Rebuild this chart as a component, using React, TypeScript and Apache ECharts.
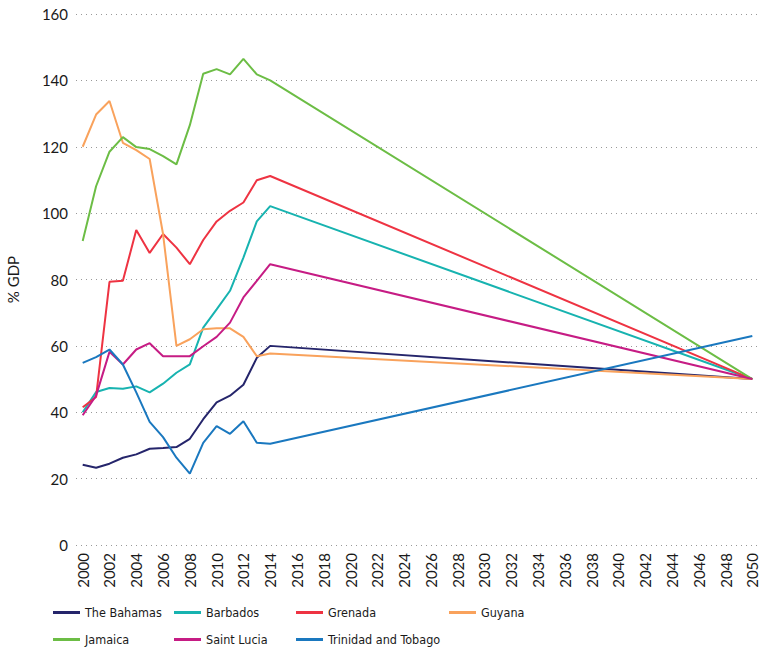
import React, { useEffect, useRef } from "react";
import * as echarts from "echarts";

const allYears: string[] = [];
for (let y = 2000; y <= 2050; y++) allYears.push(String(y));

const dataYears = [2000, 2001, 2002, 2003, 2004, 2005, 2006, 2007, 2008, 2009, 2010, 2011, 2012, 2013, 2014, 2050];

const bahamas = [24.2, 23.3, 24.5, 26.3, 27.3, 29.0, 29.2, 29.5, 32.0, 37.9, 43.0, 45.0, 48.3, 56.4, 60.0, 50];
const barbados = [40.0, 46.1, 47.3, 47.1, 47.8, 46.0, 48.6, 51.9, 54.4, 65.5, 71.0, 76.6, 86.6, 97.5, 102.1, 50];
const grenada = [41.5, 44.6, 79.3, 79.6, 94.9, 88.0, 93.7, 89.6, 84.6, 91.9, 97.5, 100.7, 103.2, 109.9, 111.2, 50];
const guyana = [120.0, 129.7, 133.8, 121.2, 119.0, 116.3, 93.7, 60.0, 62.0, 65.0, 65.3, 65.3, 62.7, 56.9, 57.7, 50];
const jamaica = [91.6, 108.1, 118.5, 122.9, 119.9, 119.3, 117.2, 114.7, 126.5, 142.0, 143.4, 141.8, 146.5, 141.8, 140.0, 50];
const saintLucia = [39.1, 45.0, 58.2, 54.4, 58.9, 60.8, 56.9, 56.9, 56.9, 59.9, 62.7, 67.0, 74.6, 79.6, 84.6, 50];
const trinidad = [54.9, 56.6, 58.9, 54.4, 46.0, 37.1, 32.5, 26.3, 21.5, 30.8, 35.8, 33.5, 37.3, 30.8, 30.5, 63];

const seriesNames = ["The Bahamas", "Barbados", "Grenada", "Guyana", "Jamaica", "Saint Lucia", "Trinidad and Tobago"];
const seriesValues = [bahamas, barbados, grenada, guyana, jamaica, saintLucia, trinidad];
const seriesColors = ["#25256b", "#17b3b0", "#ee3342", "#f9a25c", "#6cbd45", "#c61c84", "#1a78bf"];

const legendPos = [
  { left: 53, top: 606 },
  { left: 174, top: 606 },
  { left: 296, top: 606 },
  { left: 449, top: 606 },
  { left: 53, top: 633 },
  { left: 174, top: 633 },
  { left: 296, top: 633 },
];

const FONT = "'Lato', sans-serif";
const LEGEND_FONT = "'DejaVu Sans Condensed', 'Lato', sans-serif";

export default function App() {
  const ref = useRef<HTMLDivElement>(null);
  useEffect(() => {
    if (!ref.current) return;
    const chart = echarts.init(ref.current, null, { renderer: "svg" });
    chart.setOption({
      animation: false,
      textStyle: { fontFamily: FONT },
      grid: { left: 76, right: 14, top: 14, bottom: 105, containLabel: false, outerBoundsMode: "none" },
      xAxis: {
        type: "category",
        data: allYears,
        boundaryGap: true,
        axisLine: { show: false },
        axisTick: { show: false },
        axisLabel: {
          interval: 1,
          rotate: 90,
          fontSize: 15,
          color: "#1a1a1a",
          margin: 8,
          fontFamily: FONT,
        },
        splitLine: { show: false },
      },
      yAxis: {
        type: "value",
        min: 0,
        max: 160,
        interval: 20,
        name: "% GDP",
        nameLocation: "middle",
        nameRotate: 90,
        nameGap: 56,
        nameTextStyle: { fontSize: 15, color: "#1a1a1a", fontFamily: FONT },
        axisLine: { show: false },
        axisTick: { show: false },
        axisLabel: { fontSize: 15, color: "#1a1a1a", margin: 8, fontFamily: FONT },
        splitLine: { show: true, lineStyle: { type: [1, 4], color: "#999999", width: 1 } },
      },
      legend: seriesNames.map((n, i) => ({
        data: [n],
        left: legendPos[i].left,
        top: legendPos[i].top,
        padding: 0,
        icon: "rect",
        itemWidth: 27,
        itemHeight: 3,
        itemGap: 7,
        textStyle: { fontSize: 12.5, color: "#1a1a1a", fontFamily: LEGEND_FONT },
      })),
      series: seriesNames.map((n, i) => ({
        name: n,
        type: "line",
        data: dataYears.map((y, j) => [String(y), seriesValues[i][j]]),
        showSymbol: false,
        symbol: "none",
        lineStyle: { width: 2, color: seriesColors[i] },
        itemStyle: { color: seriesColors[i] },
        connectNulls: true,
      })),
    });
    return () => chart.dispose();
  }, []);
  return (
    <div
      ref={ref}
      style={{ position: "fixed", left: 0, top: 0, width: 773, height: 650, background: "#fff" }}
    />
  );
}
